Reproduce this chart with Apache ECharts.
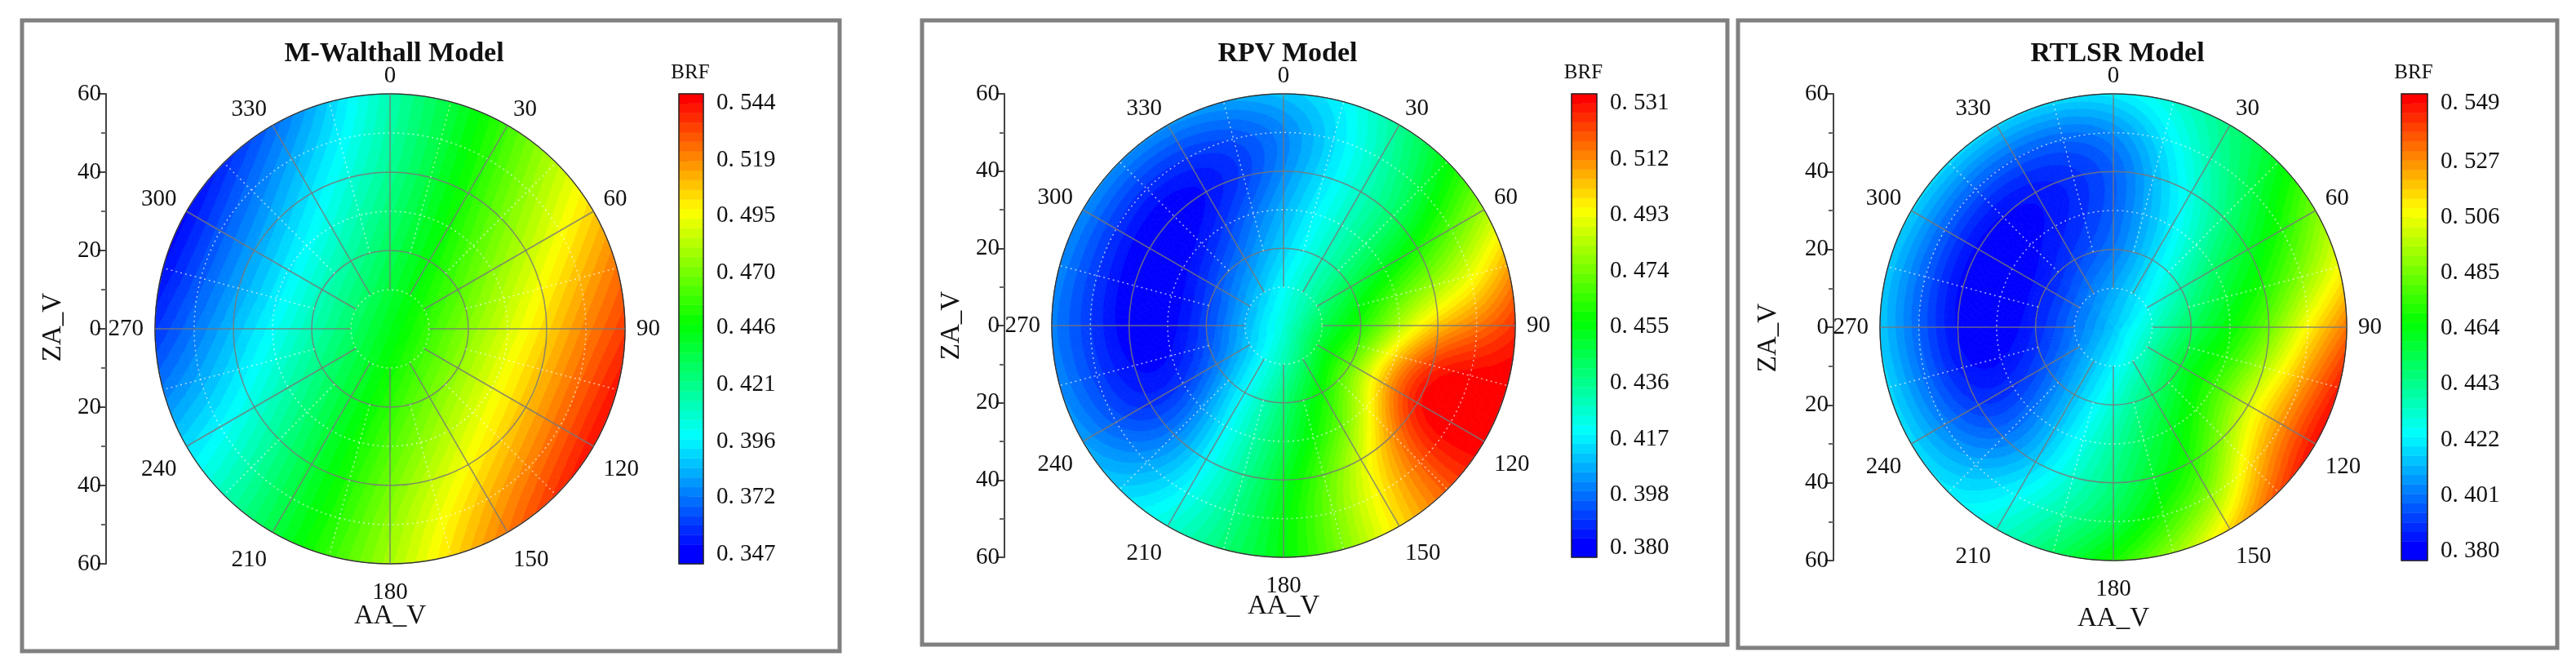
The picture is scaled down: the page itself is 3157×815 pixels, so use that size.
<!DOCTYPE html>
<html>
<head>
<meta charset="utf-8">
<title>BRF polar contours</title>
<script src="https://cdn.jsdelivr.net/npm/echarts@6/dist/echarts.min.js"></script>
<style>
    html, body { margin: 0; padding: 0; background: #fff; }
    #chart { width: 3157px; height: 815px; }
</style>
</head>
<body>
<div id="chart"></div>
<script>
// ZA_V rings, one row per ring, AA_V = 0, 15, ... 345
var zaRings = [10, 20, 30, 40, 50, 60]
var aaStep = 15

var walthallCentre = 0.443
var walthallZA10 = [.437,.441,.445,.449,.453,.456,.458,.459,.459,.458,.456,.453,.449,.445,.441,.437,.433,.430,.428,.427,.427,.428,.430,.433]
var walthallZA20 = [.431,.439,.447,.456,.463,.469,.474,.476,.476,.474,.470,.464,.456,.448,.439,.431,.424,.418,.413,.411,.411,.413,.417,.423]
var walthallZA30 = [.425,.437,.450,.463,.474,.483,.489,.493,.493,.490,.483,.474,.463,.451,.438,.426,.414,.405,.399,.395,.395,.398,.405,.414]
var walthallZA40 = [.419,.436,.453,.470,.484,.497,.505,.510,.510,.506,.497,.485,.470,.453,.437,.420,.405,.393,.385,.380,.380,.384,.393,.405]
var walthallZA50 = [.416,.435,.456,.477,.495,.511,.522,.527,.527,.522,.512,.495,.476,.455,.436,.415,.397,.381,.371,.365,.365,.370,.381,.396]
var walthallZA60 = [.415,.435,.459,.484,.506,.525,.535,.544,.545,.538,.524,.504,.479,.458,.435,.412,.392,.372,.358,.350,.349,.356,.368,.388]

var rpvCentre = 0.425
var rpvZA10 = [.420,.425,.430,.433,.438,.443,.447,.449,.449,.446,.441,.436,.430,.425,.420,.415,.412,.410,.409,.408,.408,.410,.412,.416]
var rpvZA20 = [.412,.420,.428,.436,.447,.455,.460,.465,.470,.470,.460,.452,.440,.430,.420,.410,.399,.393,.391,.390,.393,.396,.400,.406]
var rpvZA30 = [.408,.418,.428,.440,.452,.470,.482,.505,.512,.490,.470,.458,.445,.433,.418,.402,.387,.381,.379,.379,.380,.383,.389,.399]
var rpvZA40 = [.402,.415,.428,.440,.460,.480,.505,.532,.538,.515,.490,.470,.452,.435,.418,.399,.385,.381,.378,.378,.377,.377,.380,.387]
var rpvZA50 = [.398,.413,.430,.447,.470,.490,.515,.536,.540,.520,.497,.475,.455,.437,.420,.405,.393,.391,.390,.390,.389,.387,.388,.391]
var rpvZA60 = [.410,.417,.435,.455,.480,.510,.527,.536,.537,.520,.500,.475,.455,.440,.425,.412,.405,.402,.400,.402,.403,.403,.403,.405]

var rtlsrCentre = 0.415
var rtlsrZA10 = [.410,.414,.417,.421,.425,.430,.433,.435,.436,.434,.431,.427,.423,.418,.414,.410,.406,.403,.402,.401,.401,.402,.404,.407]
var rtlsrZA20 = [.400,.408,.419,.428,.437,.445,.453,.458,.460,.455,.449,.442,.432,.422,.413,.404,.395,.389,.386,.385,.385,.387,.391,.395]
var rtlsrZA30 = [.396,.410,.420,.436,.451,.460,.465,.470,.475,.470,.462,.453,.440,.428,.413,.399,.387,.381,.378,.378,.379,.381,.384,.389]
var rtlsrZA40 = [.394,.412,.428,.445,.460,.470,.482,.495,.506,.490,.468,.460,.445,.432,.415,.399,.388,.382,.380,.379,.379,.380,.382,.387]
var rtlsrZA50 = [.402,.420,.438,.455,.470,.487,.512,.525,.530,.520,.485,.472,.452,.440,.425,.410,.403,.400,.398,.398,.398,.396,.396,.396]
var rtlsrZA60 = [.420,.430,.445,.460,.488,.506,.533,.548,.552,.540,.515,.490,.470,.450,.430,.420,.418,.418,.415,.415,.417,.418,.417,.417]

// colour bar ticks
var walthallTicks = [.347, .372, .396, .421, .446, .470, .495, .519, .544]
var rpvTicks = [.380, .398, .417, .436, .455, .474, .493, .512, .531]
var rtlsrTicks = [.380, .401, .422, .443, .464, .485, .506, .527, .549]

var spokesSolid = [0, 30, 60, 90, 120, 150, 180, 210, 240, 270, 300, 330]
var spokesDotted = [15, 45, 75, 105, 135, 165, 195, 225, 255, 285, 315, 345]
var bandCount = 48
var serif = '"Liberation Serif", "DejaVu Serif", serif'
var solidGrey = 'rgba(120,120,120,0.85)'
var dottedWhite = 'rgba(255,255,255,0.65)'

var panels = [
    { title: 'M-Walthall Model', centre: walthallCentre, ticks: walthallTicks,
      rows: [walthallZA10, walthallZA20, walthallZA30, walthallZA40, walthallZA50, walthallZA60],
      frame: [27, 25, 1002, 773], cx: 478, cy: 403, r: 288, axisX: 130, barX: 832, barW: 30, barB: 691, titleY: 61, aaY: 755, zaX: 65, zaY: 401 },
    { title: 'RPV Model', centre: rpvCentre, ticks: rpvTicks,
      rows: [rpvZA10, rpvZA20, rpvZA30, rpvZA40, rpvZA50, rpvZA60],
      frame: [1130, 25, 987, 765], cx: 1573, cy: 399, r: 284, axisX: 1231, barX: 1926, barW: 31, barB: 683, titleY: 61, aaY: 743, zaX: 1166, zaY: 399 },
    { title: 'RTLSR Model', centre: rtlsrCentre, ticks: rtlsrTicks,
      rows: [rtlsrZA10, rtlsrZA20, rtlsrZA30, rtlsrZA40, rtlsrZA50, rtlsrZA60],
      frame: [2130, 25, 1004, 769], cx: 2590, cy: 401, r: 286, axisX: 2247, barX: 2943, barW: 32, barB: 687, titleY: 61, aaY: 758, zaX: 2167, zaY: 414 }
]

// blue - cyan - green - yellow - red
function bandColor (i) {
    var t = i / (bandCount - 1) * 4
    var k = Math.min(Math.floor(t), 3)
    var f = Math.round((t - k) * 255)
    var rgb = [[0, f, 255], [0, 255, 255 - f], [f, 255, 0], [255, 255 - f, 0]][k]
    return 'rgb(' + rgb.join(',') + ')'
}

// cubic b-spline, keeps the contours free of the wobble in hand read values
function spline (a, b, c, d, t) {
    var s = 1 - t
    return (s * s * s * a + (3 * t * t * t - 6 * t * t + 4) * b + (-3 * t * t * t + 3 * t * t + 3 * t + 1) * c + t * t * t * d) / 6
}

// value of a panel at (za, aa), smooth between the rings and angles read above
function fieldAt (p, za, aa) {
    var n = p.rows[0].length
    function cell (k, j) {
        j = (j % n + n) % n
        if (k === 0) return p.centre
        if (k < 0) return p.rows[-k - 1][(j + n / 2) % n]
        if (k > zaRings.length) return 2 * p.rows[zaRings.length - 1][j] - p.rows[zaRings.length - 2][j]
        return p.rows[k - 1][j]
    }
    var u = Math.min(za / 10, zaRings.length - 1e-6)
    var i = Math.floor(u)
    var v = aa / aaStep
    var j = Math.floor(v)
    function ring (k) {
        return spline(cell(k, j - 1), cell(k, j), cell(k, j + 1), cell(k, j + 2), v - j)
    }
    return spline(ring(i - 1), ring(i), ring(i + 1), ring(i + 2), u - i)
}

// keep the part of a polygon where value >= limit
function clip (poly, limit) {
    var out = []
    for (var i = 0; i < poly.length; i++) {
        var a = poly[i]
        var b = poly[(i + 1) % poly.length]
        var da = a[2] - limit
        var db = b[2] - limit
        if (da >= 0) out.push(a)
        if ((da >= 0) !== (db >= 0)) {
            var t = da / (da - db)
            out.push([a[0] + (b[0] - a[0]) * t, a[1] + (b[1] - a[1]) * t, limit])
        }
    }
    return out
}

// filled contours as polygons in (za, aa), each level painted over the one below
function buildBands (p) {
    var vMin = p.ticks[0]
    var vMax = p.ticks[p.ticks.length - 1]
    var step = (vMax - vMin) / (bandCount - 1)
    var polys = []
    function addTri (tri) {
        var vs = tri.map(function (q) { return q[2] })
        var from = Math.floor((Math.min.apply(null, vs) - vMin) / step)
        var to = Math.floor((Math.max.apply(null, vs) - vMin) / step)
        from = Math.min(Math.max(from, 0), bandCount - 1)
        to = Math.min(Math.max(to, 0), bandCount - 1)
        polys.push({ level: from, pts: tri })
        for (var b = from + 1; b <= to; b++) {
            var part = clip(tri, vMin + b * step)
            if (part.length > 2) polys.push({ level: b, pts: part })
        }
    }
    var dz = 2.5
    var da = 3
    for (var z = 0; z < 60; z += dz) {
        for (var a = 0; a < 360; a += da) {
            var q00 = [z, a, fieldAt(p, z, a)]
            var q01 = [z, a + da, fieldAt(p, z, (a + da) % 360)]
            var q10 = [z + dz, a, fieldAt(p, z + dz, a)]
            var q11 = [z + dz, a + da, fieldAt(p, z + dz, (a + da) % 360)]
            addTri([q00, q10, q11])
            addTri([q00, q11, q01])
        }
    }
    return polys
}

// colour bar bands, first and last are twice as thick
function barBands (p) {
    var vMin = p.ticks[0]
    var vMax = p.ticks[p.ticks.length - 1]
    var step = (vMax - vMin) / (bandCount - 1)
    var out = []
    for (var i = 0; i < bandCount; i++) {
        out.push([0, i === 0 ? vMin - step : vMin + i * step, i === bandCount - 1 ? vMax + step : vMin + (i + 1) * step, i])
    }
    return out
}

var titles = []
var polars = []
var angleAxes = []
var radiusAxes = []
var grids = []
var xAxes = []
var yAxes = []
var series = []
var graphics = []

panels.forEach(function (p, idx) {
    var polys = buildBands(p)
    var top = 115
    var bottom = 2 * p.cy - top
    var vStep = (p.ticks[8] - p.ticks[0]) / (bandCount - 1)

    graphics.push({
        type: 'rect', z: -1,
        shape: { x: p.frame[0], y: p.frame[1], width: p.frame[2], height: p.frame[3] },
        style: { fill: '#fff', stroke: '#808080', lineWidth: 5 }
    })
    graphics.push({
        type: 'text', z: 20, x: p.zaX, y: p.zaY, rotation: Math.PI / 2,
        style: { text: 'ZA_V', font: '33px ' + serif, fill: '#111', align: 'center', verticalAlign: 'middle' }
    })
    graphics.push({
        type: 'text', z: 20, x: p.barX + p.barW / 2 - 1, y: 89,
        style: { text: 'BRF', font: '25px ' + serif, fill: '#111', align: 'center', verticalAlign: 'middle' }
    })
    titles.push({
        text: p.title, left: p.cx, top: p.titleY, textAlign: 'center', textVerticalAlign: 'middle',
        textStyle: { fontFamily: serif, fontWeight: 'bold', fontSize: 34, color: '#111' }
    })
    polars.push({ center: [p.cx, p.cy], radius: p.r })
    angleAxes.push({
        polarIndex: idx, type: 'value', min: 0, max: 360, interval: 30, startAngle: 90, z: 5,
        axisLine: { show: true, lineStyle: { color: '#222', width: 1 } },
        axisTick: { show: false },
        splitLine: { show: false },
        axisLabel: { margin: 14, color: '#111', fontFamily: serif, fontSize: 29, padding: [7, 0, -7, 0] }
    })
    radiusAxes.push({
        polarIndex: idx, type: 'value', min: 0, max: 60, interval: 20, z: 5,
        axisLine: { show: false },
        axisTick: { show: false },
        axisLabel: { show: false },
        splitLine: { show: true, lineStyle: { color: solidGrey, width: 1.5 } },
        minorTick: { show: false, splitNumber: 2 },
        minorSplitLine: { show: true, lineStyle: { color: dottedWhite, width: 1.5, type: [2, 4] } }
    })

    // left axis, runs 60 - 0 - 60 through the centre
    grids.push({ left: p.axisX, top: top, width: 2 * (p.cx - p.axisX), height: bottom - top })
    xAxes.push({
        gridIndex: idx * 2, type: 'value', min: 0, max: 1,
        axisLine: { show: false }, axisTick: { show: false }, axisLabel: { show: false }, splitLine: { show: false },
        name: 'AA_V', nameLocation: 'middle', nameGap: p.aaY - bottom,
        nameTextStyle: { fontFamily: serif, fontSize: 33, color: '#111', verticalAlign: 'middle' }
    })
    yAxes.push({
        gridIndex: idx * 2, type: 'value', min: -60, max: 60, interval: 20,
        axisLine: { show: true, lineStyle: { color: '#444', width: 2 } },
        axisTick: { show: true, length: 10, lineStyle: { color: '#444', width: 2 } },
        minorTick: { show: true, splitNumber: 2, length: 6, lineStyle: { color: '#666', width: 2 } },
        splitLine: { show: false },
        axisLabel: {
            margin: 6, color: '#111', fontFamily: serif, fontSize: 29,
            formatter: function (v) { return String(Math.abs(v)) }
        }
    })

    // colour bar, a cartesian grid of its own
    grids.push({
        left: p.barX, top: top, width: p.barW, height: p.barB - top,
        show: true, backgroundColor: 'transparent', borderColor: '#222', borderWidth: 1.5, z: 8
    })
    xAxes.push({
        gridIndex: idx * 2 + 1, type: 'value', min: 0, max: 1, show: false
    })
    yAxes.push({
        gridIndex: idx * 2 + 1, type: 'value', min: p.ticks[0] - vStep, max: p.ticks[8] + vStep, position: 'right',
        axisLine: { show: false },
        axisTick: { show: true, length: 12, customValues: p.ticks, lineStyle: { color: '#222', width: 2 } },
        splitLine: { show: false },
        axisLabel: {
            margin: 16, color: '#111', fontFamily: serif, fontSize: 29, customValues: p.ticks,
            formatter: function (v) { return v.toFixed(3).replace('.', '. ') }
        }
    })

    series.push({
        type: 'custom', coordinateSystem: 'polar', polarIndex: idx, silent: true, animation: false, z: 2,
        progressive: 0,
        encode: { radius: 0, angle: 1 },
        data: polys.map(function (q) { return [q.pts[0][0], q.pts[0][1]] }),
        renderItem: function (params, api) {
            var q = polys[params.dataIndex]
            var c = bandColor(q.level)
            return {
                type: 'polygon',
                shape: { points: q.pts.map(function (d) { return api.coord([d[0], d[1]]) }) },
                style: { fill: c, stroke: c, lineWidth: 0.8 }
            }
        }
    })

    // spokes, the solid ones stop at ring 10, the dotted ones at ring 20
    var spokeData = spokesSolid.map(function (a) { return [10, a, 0] })
        .concat(spokesDotted.map(function (a) { return [20, a, 1] }))
    series.push({
        type: 'custom', coordinateSystem: 'polar', polarIndex: idx, silent: true, animation: false, z: 6,
        encode: { radius: 0, angle: 1 },
        data: spokeData,
        renderItem: function (params, api) {
            var from = api.coord([api.value(0), api.value(1)])
            var to = api.coord([60, api.value(1)])
            var dotted = api.value(2) === 1
            return {
                type: 'line',
                shape: { x1: from[0], y1: from[1], x2: to[0], y2: to[1] },
                style: { stroke: dotted ? dottedWhite : solidGrey, lineWidth: 1.5, lineDash: dotted ? [2, 4] : null }
            }
        }
    })

    series.push({
        type: 'custom', coordinateSystem: 'cartesian2d', xAxisIndex: idx * 2 + 1, yAxisIndex: idx * 2 + 1,
        silent: true, animation: false,
        encode: { x: 0, y: 1 },
        data: barBands(p),
        renderItem: function (params, api) {
            var a = api.coord([0, api.value(1)])
            var b = api.coord([1, api.value(2)])
            var c = bandColor(api.value(3))
            return {
                type: 'rect',
                shape: { x: a[0], y: b[1], width: b[0] - a[0], height: a[1] - b[1] },
                style: { fill: c, stroke: c, lineWidth: 0.5 }
            }
        }
    })
})

var chart = echarts.init(document.getElementById('chart'), null, { renderer: 'canvas' })
chart.setOption({
    backgroundColor: '#fff',
    animation: false,
    title: titles,
    polar: polars,
    angleAxis: angleAxes,
    radiusAxis: radiusAxes,
    grid: grids,
    xAxis: xAxes,
    yAxis: yAxes,
    graphic: graphics,
    series: series
})
</script>
</body>
</html>
